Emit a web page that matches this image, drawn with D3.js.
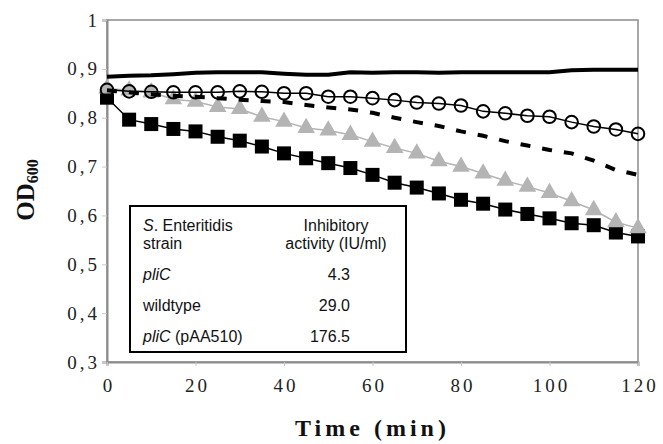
<!DOCTYPE html>
<html>
<head>
<meta charset="utf-8">
<script src="https://cdn.jsdelivr.net/npm/d3@7"></script>
<style>
  body { margin: 0; background: #fff; }
  .tick text { font-family: "Liberation Serif", "Times New Roman", serif; }
</style>
</head>
<body>
<svg id="chart"></svg>
<script>
// time points (min)
const times = [0, 5, 10, 15, 20, 25, 30, 35, 40, 45, 50, 55, 60, 65, 70, 75, 80, 85, 90, 95, 100, 105, 110, 115, 120];

// OD600 readings
const solidLine = [0.884, 0.886, 0.887, 0.889, 0.892, 0.893, 0.893, 0.893, 0.890, 0.888, 0.888, 0.893, 0.892,
                   0.893, 0.893, 0.892, 0.893, 0.893, 0.893, 0.893, 0.893, 0.897, 0.898, 0.898, 0.898];
const openCircles = [0.857, 0.854, 0.853, 0.852, 0.852, 0.852, 0.854, 0.853, 0.850, 0.850, 0.843, 0.843, 0.840,
                     0.836, 0.831, 0.829, 0.825, 0.813, 0.809, 0.804, 0.802, 0.791, 0.782, 0.776, 0.767];
const dashedLine = [0.856, 0.852, 0.848, 0.845, 0.843, 0.840, 0.837, 0.834, 0.832, 0.826, 0.821, 0.817, 0.810,
                    0.800, 0.791, 0.783, 0.772, 0.763, 0.752, 0.743, 0.734, 0.727, 0.712, 0.693, 0.683];
const greyTriangles = [0.860, 0.856, 0.852, 0.838, 0.833, 0.822, 0.818, 0.802, 0.792, 0.779, 0.774, 0.765, 0.751,
                       0.738, 0.727, 0.711, 0.700, 0.686, 0.671, 0.659, 0.646, 0.629, 0.611, 0.586, 0.574];
const blackSquares = [0.841, 0.796, 0.787, 0.777, 0.772, 0.761, 0.753, 0.741, 0.727, 0.717, 0.707, 0.697, 0.683,
                      0.667, 0.657, 0.645, 0.632, 0.624, 0.612, 0.603, 0.594, 0.584, 0.580, 0.565, 0.557];

const yTicks = [0.3, 0.4, 0.5, 0.6, 0.7, 0.8, 0.9, 1];
const xTicks = [0, 20, 40, 60, 80, 100, 120];

// inset table
const strains = ["pliC", "wildtype", "pliC (pAA510)"];
const activity = ["4.3", "29.0", "176.5"];

const W = 663, H = 444;
const margin = { top: 20, right: 25, bottom: 82, left: 107 };
const width = W - margin.left - margin.right,
      height = H - margin.top - margin.bottom;

const svg = d3.select("#chart").attr("width", W).attr("height", H);
const g = svg.append("g").attr("transform", `translate(${margin.left},${margin.top})`);

const x = d3.scaleLinear().domain([0, 120]).range([0, width]);
const y = d3.scaleLinear().domain([0.3, 1]).range([height, 0]);

const axisGrey = "#8c8c8c";

// frame
g.append("rect")
    .attr("width", width).attr("height", height)
    .attr("fill", "none").attr("stroke", axisGrey).attr("stroke-width", 1.5);

// axes
const yAxis = g.append("g")
    .call(d3.axisLeft(y).tickValues(yTicks).tickSize(5).tickPadding(5)
        .tickFormat(d => d === 1 ? "1" : d.toFixed(1).replace(".", ",")));
const xAxis = g.append("g").attr("transform", `translate(0,${height})`)
    .call(d3.axisBottom(x).tickValues(xTicks).tickSize(4).tickPadding(13));

[yAxis, xAxis].forEach(a => {
    a.select(".domain").attr("stroke", axisGrey).attr("stroke-width", 2);
    a.selectAll(".tick line").attr("stroke", "#c8c8c8");
    a.selectAll(".tick text").attr("fill", "#222").style("font-size", "19px").style("letter-spacing", "3px");
});
yAxis.selectAll(".tick text").attr("dx", "3px");
xAxis.selectAll(".tick text").attr("dx", "1.5px");

// inset table (drawn first, lines go over it)
const tb = g.append("g").attr("transform", "translate(23,186)")
    .style("font-family", "'Liberation Sans', Arial, sans-serif").style("font-size", "16px").attr("fill", "#111");
tb.append("rect").attr("width", 276).attr("height", 146)
    .attr("fill", "#fff").attr("stroke", "#000").attr("stroke-width", 2);
const head = tb.append("text").attr("x", 13).attr("y", 25);
head.append("tspan").style("font-style", "italic").text("S");
head.append("tspan").text(". Enteritidis");
tb.append("text").attr("x", 13).attr("y", 43).text("strain");
tb.append("text").attr("x", 206).attr("y", 25).attr("text-anchor", "middle").text("Inhibitory");
tb.append("text").attr("x", 206).attr("y", 43).attr("text-anchor", "middle").text("activity (IU/ml)");

strains.forEach((s, i) => {
    const yy = 74 + i * 31;
    const t = tb.append("text").attr("x", 13).attr("y", yy);
    if (s.startsWith("pliC")) {
        t.append("tspan").style("font-style", "italic").text("pliC");
        t.append("tspan").text(s.slice(4));
    } else t.text(s);
    tb.append("text").attr("x", 220).attr("y", yy).attr("text-anchor", "end").text(activity[i]);
});

const pts = vals => vals.map((v, i) => [times[i], v]);
const line = d3.line().x(d => x(d[0])).y(d => y(d[1]));

// black squares
g.append("path").datum(pts(blackSquares)).attr("d", line)
    .attr("fill", "none").attr("stroke", "#000").attr("stroke-width", 1.5);
g.selectAll(".sq").data(pts(blackSquares)).join("rect")
    .attr("x", d => x(d[0]) - 7).attr("y", d => y(d[1]) - 7)
    .attr("width", 14).attr("height", 14).attr("fill", "#000");

// grey triangles
g.append("path").datum(pts(greyTriangles)).attr("d", line)
    .attr("fill", "none").attr("stroke", "#b4b4b4").attr("stroke-width", 1.5);
const tri = d3.symbol().type(d3.symbolTriangle).size(135);
g.selectAll(".tri").data(pts(greyTriangles)).join("path")
    .attr("d", tri).attr("transform", d => `translate(${x(d[0])},${y(d[1])})`)
    .attr("fill", "#b4b4b4");

// dashed
g.append("path").datum(pts(dashedLine)).attr("d", line)
    .attr("fill", "none").attr("stroke", "#000").attr("stroke-width", 4)
    .attr("stroke-dasharray", "10,12");

// solid thick
g.append("path").datum(pts(solidLine)).attr("d", line)
    .attr("fill", "none").attr("stroke", "#000").attr("stroke-width", 4);

// open circles
g.append("path").datum(pts(openCircles)).attr("d", line)
    .attr("fill", "none").attr("stroke", "#000").attr("stroke-width", 1.5);
g.selectAll(".circ").data(pts(openCircles)).join("circle")
    .attr("cx", d => x(d[0])).attr("cy", d => y(d[1])).attr("r", 6.3)
    .attr("fill", "none").attr("stroke", "#000").attr("stroke-width", 2);

// axis titles
const serif = "'Liberation Serif', 'Times New Roman', serif";
svg.append("text")
    .attr("x", margin.left + width / 2).attr("y", 436)
    .attr("text-anchor", "middle")
    .style("font-family", serif).style("font-weight", "bold")
    .style("font-size", "24px").style("letter-spacing", "4px")
    .attr("fill", "#111").text("Time (min)");

const yl = svg.append("text")
    .attr("transform", "translate(34,190) rotate(-90)")
    .attr("text-anchor", "middle")
    .style("font-family", serif).style("font-weight", "bold").style("font-size", "25px")
    .attr("fill", "#111");
yl.append("tspan").text("OD");
yl.append("tspan").style("font-size", "16px").attr("dy", "4").text("600");
</script>
</body>
</html>
